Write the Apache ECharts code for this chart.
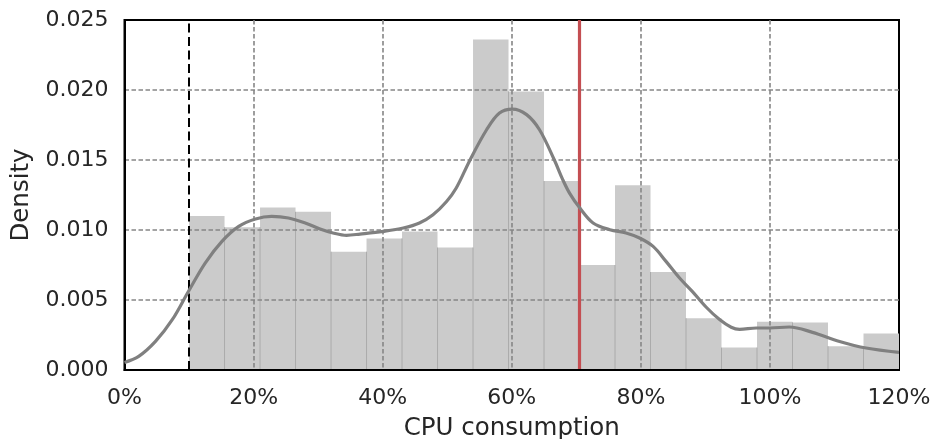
<!DOCTYPE html>
<html>
<head>
<meta charset="utf-8">
<script src="https://cdn.jsdelivr.net/npm/echarts@6/dist/echarts.min.js"></script>
<style>html,body{margin:0;padding:0;background:#fff;}#c{width:933px;height:439px;}</style>
</head>
<body>
<div id="c"></div>
<script>
// Histogram bins (CPU %): left edges, right edges, densities
var binLeft  = [10, 15.5, 21, 26.5, 32, 37.5, 43, 48.5, 54, 59.5, 65, 70.5, 76, 81.5, 87, 92.5, 98, 103.5, 109, 114.5];
var binRight = [15.5, 21, 26.5, 32, 37.5, 43, 48.5, 54, 59.5, 65, 70.5, 76, 81.5, 87, 92.5, 98, 103.5, 109, 114.5, 120];
var binDensity = [0.0110, 0.0102, 0.0116, 0.0113, 0.00845, 0.0094, 0.0099, 0.00875, 0.0236, 0.0199,
                  0.0135, 0.0075, 0.0132, 0.0070, 0.0037, 0.0016, 0.00345, 0.0034, 0.0017, 0.0026];
// KDE curve
var kdeX = [0, 2.2, 4.8, 7.4, 9.9, 12.5, 15.1, 17.7, 20.3, 22.8, 25.4, 28, 30.3, 32.3, 34.4, 36.5, 40.1, 43.2, 45.7, 47.8, 49.9, 51.4, 53.5, 56.1, 58.1, 60.1, 62.3, 64.3, 66.6, 67.9, 69, 70.5, 72.6, 75.2, 77.7, 79.8, 81.9, 83.9, 86, 88, 90.1, 92.2, 94, 95.3, 97.9, 100, 103, 106.6, 110.8, 114.9, 120];
var kdeY = [0.00054, 0.00097, 0.00204, 0.00359, 0.00561, 0.00764, 0.00919, 0.01026, 0.01079, 0.01097, 0.01086, 0.0105, 0.01007, 0.00979, 0.00962, 0.00971, 0.0099, 0.01014, 0.0105, 0.01109, 0.01204, 0.0130, 0.01497, 0.01716, 0.01836, 0.01864, 0.01824, 0.01716, 0.0150, 0.0136, 0.0126, 0.0116, 0.0105, 0.01002, 0.00979, 0.00943, 0.00883, 0.00776, 0.00657, 0.0056, 0.0045, 0.0036, 0.00305, 0.0029, 0.0030, 0.0030, 0.00307, 0.00269, 0.00204, 0.00157, 0.00126];
// Reference lines
var minLine = 10;
var targetLine = 70.5;
// Axis ticks
var xTicks = [0, 20, 40, 60, 80, 100, 120];
var yTicks = [0, 0.005, 0.010, 0.015, 0.020, 0.025];

var FONT = 'DejaVu Sans';
var TXT = '#262626';

var binData = binLeft.map(function (l, i) { return [l, binRight[i], binDensity[i], i]; });
var kdeData = kdeX.map(function (x, i) { return [x, kdeY[i]]; });

var gridDash = {color: '#868686', width: 1.6, type: [4.5, 2.5]};

var chart = echarts.init(document.getElementById('c'), null, {renderer: 'canvas'});
chart.setOption({
  animation: false,
  backgroundColor: '#fff',
  grid: {left: 124.5, right: 34, top: 20, bottom: 69, show: true, borderColor: '#000', borderWidth: 2,
         containLabel: false, outerBoundsMode: 'none'},
  xAxis: {
    type: 'value', min: xTicks[0], max: xTicks[xTicks.length - 1], interval: 20, z: 5,
    name: 'CPU consumption', nameLocation: 'middle', nameGap: 46,
    nameTextStyle: {fontFamily: FONT, fontSize: 24.5, color: TXT},
    axisLine: {show: true, lineStyle: {color: '#000', width: 2}},
    axisTick: {show: false},
    axisLabel: {fontFamily: FONT, fontSize: 22, color: TXT, margin: 17, formatter: '{value}%'},
    splitLine: {show: true, showMinLine: false, showMaxLine: false, lineStyle: gridDash}
  },
  yAxis: {
    type: 'value', min: yTicks[0], max: yTicks[yTicks.length - 1], interval: 0.005, z: 5,
    name: 'Density', nameLocation: 'middle', nameGap: 88,
    nameTextStyle: {fontFamily: FONT, fontSize: 24.5, color: TXT},
    axisLine: {show: true, lineStyle: {color: '#000', width: 2}},
    axisTick: {show: false},
    axisLabel: {fontFamily: FONT, fontSize: 22, color: TXT, margin: 16, padding: [5, 0, 0, 0],
                formatter: function (v) { return v.toFixed(3); }},
    splitLine: {show: true, showMinLine: false, showMaxLine: false, lineStyle: gridDash}
  },
  series: [
    {
      type: 'custom', z: 2,
      data: binData,
      encode: {x: [0, 1], y: 2},
      renderItem: function (params, api) {
        var l = api.value(0), r = api.value(1), h = api.value(2), idx = api.value(3);
        var p0 = api.coord([l, 0]);
        var p1 = api.coord([r, h]);
        var children = [{
          type: 'rect',
          shape: {x: p0[0], y: p1[1], width: p1[0] - p0[0], height: p0[1] - p1[1]},
          style: {fill: '#cbcbcb'}
        }];
        if (idx > 0) {
          var hm = Math.min(h, binDensity[idx - 1]);
          var pt = api.coord([l, hm]);
          children.push({
            type: 'line',
            shape: {x1: p0[0], y1: p0[1], x2: p0[0], y2: pt[1]},
            style: {stroke: '#ababab', lineWidth: 1}
          });
        }
        return {type: 'group', children: children};
      }
    },
    {
      type: 'line', z: 6, data: kdeData, smooth: 0.35, showSymbol: false, symbol: 'none',
      lineStyle: {color: '#808080', width: 3.2}
    },
    {
      type: 'line', z: 7, data: [],
      markLine: {
        silent: true, symbol: 'none', label: {show: false},
        data: [
          {xAxis: minLine, lineStyle: {color: '#000', width: 2, type: [9, 4.5]}},
          {xAxis: targetLine, lineStyle: {color: '#c44e52', width: 3.2, type: 'solid'}}
        ]
      }
    }
  ]
});
</script>
</body>
</html>
